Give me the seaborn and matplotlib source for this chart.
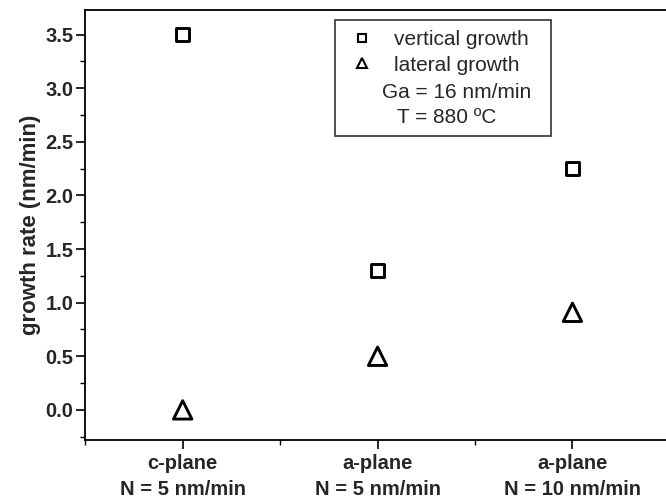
import matplotlib
matplotlib.use("Agg")
import matplotlib.pyplot as plt
import seaborn as sns
import pandas as pd
from matplotlib.lines import Line2D
from matplotlib.patches import Rectangle
from matplotlib.ticker import MultipleLocator, FixedLocator

categories = ["c-plane\nN = 5 nm/min", "a-plane\nN = 5 nm/min", "a-plane\nN = 10 nm/min"]
vertical_growth = [3.5, 1.3, 2.25]
lateral_growth = [0.0, 0.5, 0.91]
series_names = ["vertical growth", "lateral growth"]
note_lines = ["Ga = 16 nm/min", "T = 880 ºC"]
ytick_values = [0, 0.5, 1, 1.5, 2, 2.5, 3, 3.5]
ytick_labels = ["0.0", "0.5", "1.0", "1.5", "2.0", "2.5", "3.0", "3.5"]

sns.set_theme(style="ticks")
plt.rcParams['font.family'] = ['Liberation Sans', 'DejaVu Sans']

df = pd.DataFrame({
    "pos": list(range(len(categories))) * 2,
    "rate": vertical_growth + lateral_growth,
    "series": [series_names[0]] * 3 + [series_names[1]] * 3,
})

fig = plt.figure(figsize=(6.66, 5.01), dpi=100)
ax = fig.add_axes([0.128, 0.122, 0.872, 0.858])

markers = {"vertical growth": ("s", 95), "lateral growth": ("^", 175)}
for name in series_names:
    sub = df[df["series"] == name]
    m, s = markers[name]
    sns.scatterplot(data=sub, x="pos", y="rate", marker=m, s=s, ax=ax,
                    facecolor="none", edgecolor="black", linewidth=2.1, legend=False)

ax.set_xlim(-0.5, 2.48)
ax.set_ylim(-0.28, 3.73)
ax.set_xticks(range(len(categories)))
ax.set_xticklabels(categories, fontweight="bold", fontsize=14.5, linespacing=1.45)
ax.xaxis.set_minor_locator(FixedLocator([-0.5, 0.5, 1.5]))
ax.set_yticks(ytick_values)
ax.set_yticklabels(ytick_labels, fontweight="bold", fontsize=14.5)
ax.yaxis.set_minor_locator(MultipleLocator(0.25))
ax.tick_params(which="major", direction="out", length=6.5, width=1.2, color="black", pad=2)
ax.tick_params(axis="x", which="major", pad=4)
ax.tick_params(which="minor", direction="out", length=3.5, width=1.0, color="black")
ax.set_xlabel("")
ax.set_ylabel("growth rate (nm/min)", fontweight="bold", fontsize=16, labelpad=3)
for side in ["left", "top", "bottom"]:
    ax.spines[side].set_linewidth(1.3)
    ax.spines[side].set_color("black")
ax.spines["right"].set_visible(False)

ax.add_patch(Rectangle((0.430, 0.707), 0.372, 0.270, transform=ax.transAxes,
                       facecolor="white", edgecolor="#333333", linewidth=1.2, zorder=3))
handles = [Line2D([], [], marker="s", linestyle="none", markersize=6, markerfacecolor="none",
                  markeredgecolor="black", markeredgewidth=1.5),
           Line2D([], [], marker="^", linestyle="none", markersize=7, markerfacecolor="none",
                  markeredgecolor="black", markeredgewidth=1.5)]
leg = ax.legend(handles, series_names, loc="upper left", bbox_to_anchor=(0.436, 0.972),
                frameon=False, fontsize=15, handlelength=1.5, handletextpad=0.77,
                labelspacing=0.3, borderaxespad=0)
leg.set_zorder(4)
ax.text(0.639, 0.807, note_lines[0], transform=ax.transAxes, ha="center", va="center",
        fontsize=15, zorder=5)
ax.text(0.622, 0.749, note_lines[1], transform=ax.transAxes, ha="center", va="center",
        fontsize=15, zorder=5)

fig.savefig("out.png", dpi=100)
